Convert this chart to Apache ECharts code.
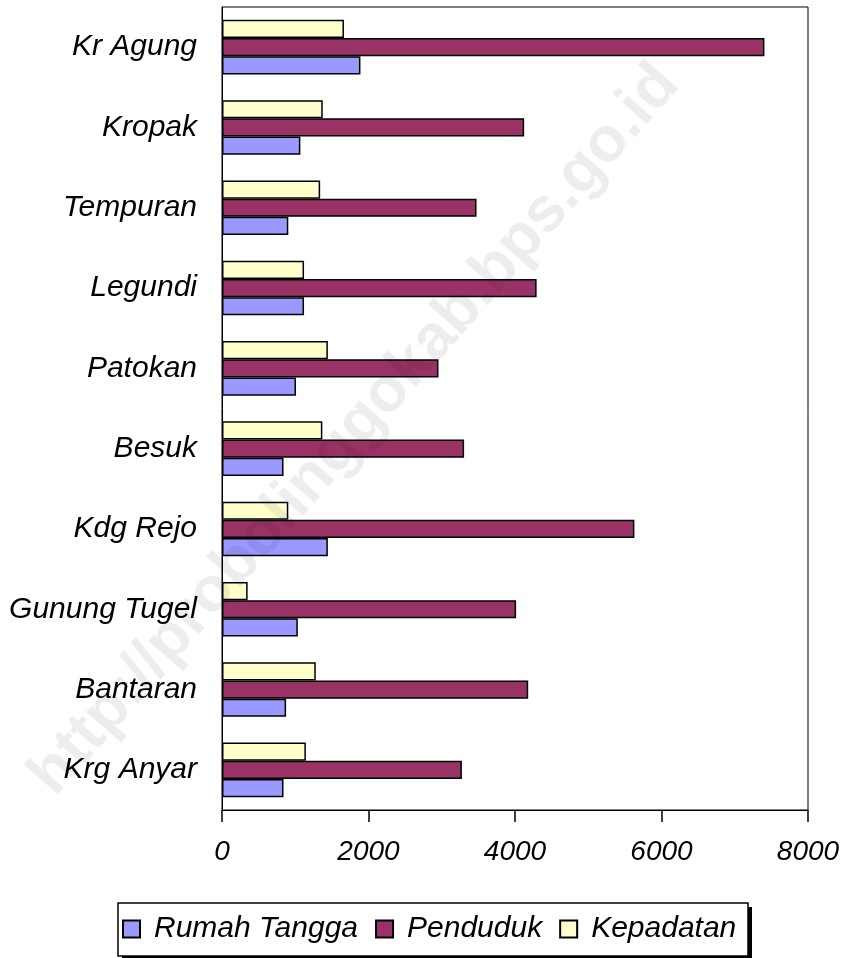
<!DOCTYPE html>
<html>
<head>
<meta charset="utf-8">
<script src="https://cdn.jsdelivr.net/npm/echarts@6/dist/echarts.min.js"></script>
<style>
  html, body { margin: 0; padding: 0; background: #fff; }
  #chart { width: 857px; height: 958px; }
</style>
</head>
<body>
<div id="chart"></div>
<script>
// desa, dari bawah ke atas
const categories = ['Krg Anyar', 'Bantaran', 'Gunung Tugel', 'Kdg Rejo', 'Besuk', 'Patokan', 'Legundi', 'Tempuran', 'Kropak', 'Kr Agung']
const rumahTangga = [840, 875, 1035, 1445, 840, 1010, 1120, 905, 1070, 1890]
const penduduk = [3275, 4180, 4015, 5630, 3305, 2955, 4295, 3475, 4125, 7405]
const kepadatan = [1145, 1280, 350, 905, 1370, 1445, 1120, 1340, 1375, 1665]
const xTicks = [0, 2000, 4000, 6000, 8000]

const myChart = echarts.init(document.getElementById('chart'))

const barStyle = (color) => ({ color: color, borderColor: '#000', borderWidth: 1.5 })

const option = {
  animation: false,
  backgroundColor: '#fff',
  textStyle: { fontFamily: 'Liberation Sans, Arial, sans-serif' },
  grid: {
    show: true,
    left: 222,
    right: 49,
    top: 7,
    bottom: 148,
    borderColor: '#000',
    borderWidth: 1
  },
  legend: {
    left: 122,
    top: 914,
    padding: 0,
    z: 10,
    itemWidth: 17,
    itemHeight: 17,
    itemGap: 17,
    icon: 'rect',
    textStyle: {
      fontSize: 30,
      fontStyle: 'italic',
      color: '#000',
      padding: [0, 0, 0, 9]
    },
    data: ['Rumah Tangga', 'Penduduk', 'Kepadatan']
  },
  xAxis: {
    type: 'value',
    min: xTicks[0],
    max: xTicks[xTicks.length - 1],
    interval: 2000,
    splitLine: { show: false },
    axisLine: { show: true, lineStyle: { color: '#000', width: 1 } },
    axisTick: { show: true, length: 12, lineStyle: { color: '#000', width: 1.5 } },
    axisLabel: {
      fontSize: 28,
      fontStyle: 'italic',
      color: '#000',
      margin: 28,
      formatter: (v) => String(v)
    }
  },
  yAxis: {
    type: 'category',
    data: categories,
    axisLine: { show: true, lineStyle: { color: '#000', width: 1 } },
    axisTick: { show: false },
    axisLabel: {
      fontSize: 30,
      fontStyle: 'italic',
      color: '#000',
      margin: 25
    }
  },
  // horizontal bars: first series sits on top of each band
  series: [
    {
      name: 'Kepadatan',
      type: 'bar',
      barGap: 0,
      barCategoryGap: '32%',
      itemStyle: barStyle('#FFFFCC'),
      data: kepadatan
    },
    {
      name: 'Penduduk',
      type: 'bar',
      barGap: 0,
      barCategoryGap: '32%',
      itemStyle: barStyle('#993366'),
      data: penduduk
    },
    {
      name: 'Rumah Tangga',
      type: 'bar',
      barGap: 0,
      barCategoryGap: '32%',
      itemStyle: barStyle('#9999FF'),
      data: rumahTangga
    }
  ],
  graphic: [
    // legend frame with hard drop shadow
    {
      type: 'rect',
      z: 1,
      silent: true,
      shape: { x: 122, y: 907, width: 630, height: 53 },
      style: { fill: '#000' }
    },
    {
      type: 'rect',
      z: 2,
      silent: true,
      shape: { x: 118, y: 903, width: 630, height: 53 },
      style: { fill: '#fff', stroke: '#000', lineWidth: 1.5 }
    },
    {
      type: 'text',
      x: 355,
      y: 430,
      rotation: 0.85,
      z: 100,
      silent: true,
      style: {
        text: 'http://probolinggokab.bps.go.id',
        font: 'bold 63px "Liberation Sans", Arial, sans-serif',
        fill: 'rgba(0,0,0,0.07)',
        align: 'center',
        verticalAlign: 'middle'
      }
    }
  ]
}

myChart.setOption(option)
</script>
</body>
</html>
